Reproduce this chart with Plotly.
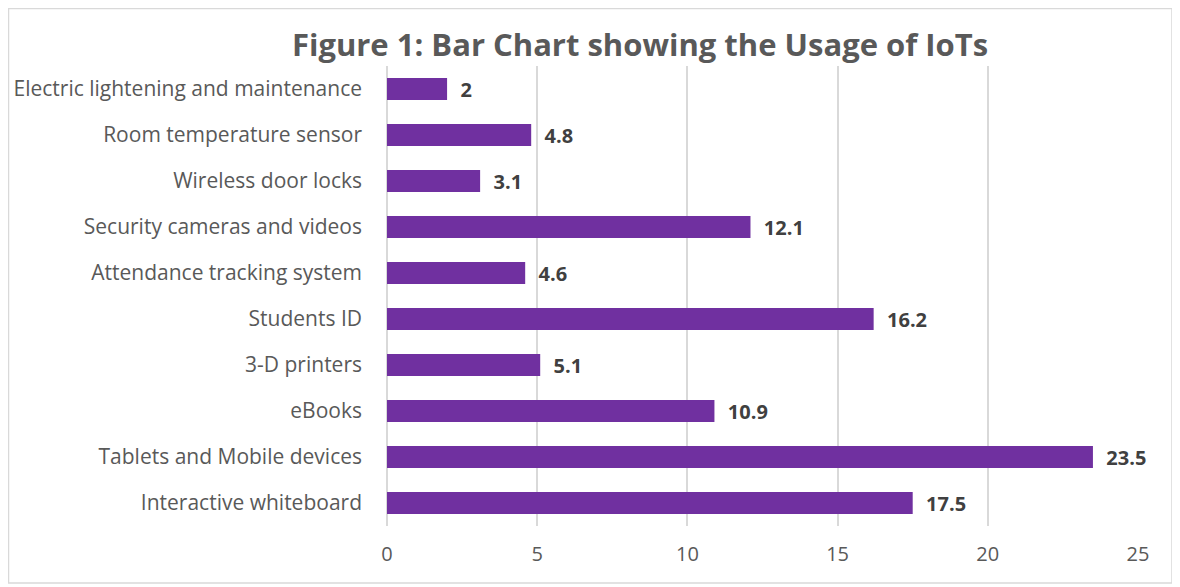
import plotly.graph_objects as go

categories = [
    "Interactive whiteboard",
    "Tablets and Mobile devices",
    "eBooks",
    "3-D printers",
    "Students ID",
    "Attendance tracking system",
    "Security cameras and videos",
    "Wireless door locks",
    "Room temperature sensor",
    "Electric lightening and maintenance",
]
values = [17.5, 23.5, 10.9, 5.1, 16.2, 4.6, 12.1, 3.1, 4.8, 2]
labels = ["17.5", "23.5", "10.9", "5.1", "16.2", "4.6", "12.1", "3.1", "4.8", "2"]
x_ticks = [0, 5, 10, 15, 20, 25]

FONT = "Open Sans"

fig = go.Figure(
    go.Bar(
        x=values,
        y=categories,
        orientation="h",
        marker=dict(color="#7030A0", line=dict(width=0)),
        text=["\u00a0\u00a0" + s for s in labels],
        textposition="outside",
        constraintext="none",
        textfont=dict(family=FONT, size=20, color="#404040", weight="bold"),
        cliponaxis=False,
        hoverinfo="skip",
    )
)

# page has an 8px body margin; figure is sized/positioned to compensate
OFF = 8
W, H = 1172, 579
L, R, T, B = 379, 42, 58, 61
pw, ph = W - L - R, H - T - B


def px_to_paper_x(px):
    return (px - OFF - L) / pw


def px_to_paper_y(py):
    return (H - B - (py - OFF)) / ph


fig.update_layout(
    width=W,
    height=H,
    margin=dict(l=L, r=R, t=T, b=B),
    paper_bgcolor="white",
    plot_bgcolor="white",
    bargap=0.52,
    showlegend=False,
    title=dict(
        text="Figure 1: Bar Chart showing the Usage of IoTs",
        x=(640 - OFF) / W,
        xanchor="center",
        y=1 - (45 - OFF) / H,
        yanchor="middle",
        font=dict(family=FONT, size=31, color="#595959", weight="bold"),
    ),
    xaxis=dict(
        range=[0, 25],
        tickvals=x_ticks,
        showgrid=True,
        gridcolor="#D9D9D9",
        gridwidth=1.5,
        zeroline=True,
        zerolinecolor="#D9D9D9",
        zerolinewidth=1.5,
        showline=False,
        ticks="",
        tickfont=dict(family=FONT, size=20, color="#595959"),
        ticklabelstandoff=14,
        fixedrange=True,
    ),
    yaxis=dict(
        showgrid=False,
        zeroline=False,
        showline=False,
        ticks="",
        tickfont=dict(family=FONT, size=21, color="#595959"),
        ticklabelstandoff=24,
        automargin=False,
        fixedrange=True,
    ),
    shapes=[
        dict(
            type="rect",
            xref="paper",
            yref="paper",
            x0=px_to_paper_x(8.5),
            x1=px_to_paper_x(1172),
            y0=px_to_paper_y(583),
            y1=px_to_paper_y(8.5),
            line=dict(color="#D9D9D9", width=1.5),
            fillcolor="rgba(0,0,0,0)",
            layer="below",
        )
    ],
)

fig.write_html("out.html")
